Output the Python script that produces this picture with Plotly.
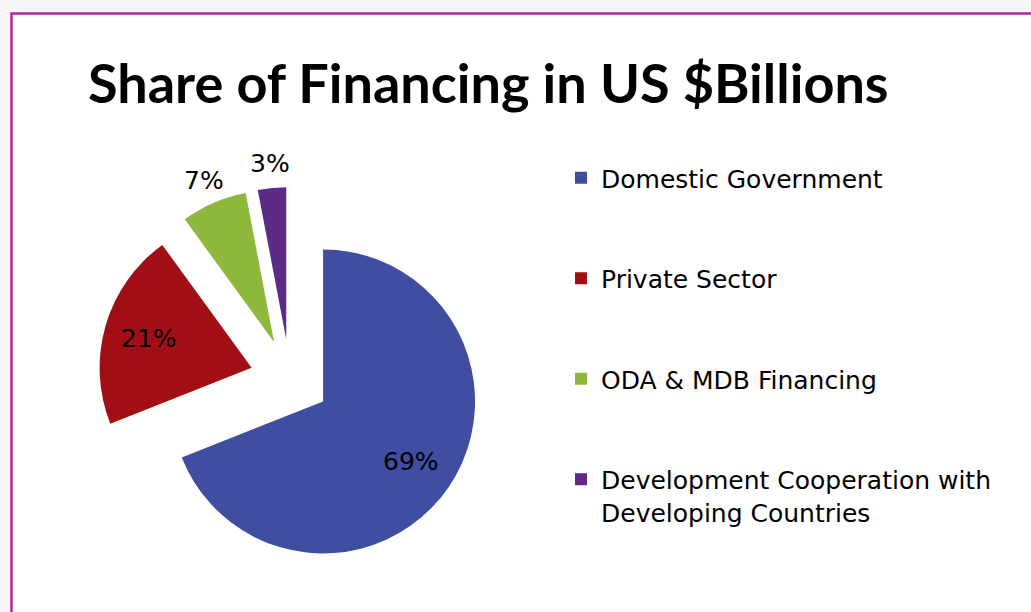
import math
import plotly.graph_objects as go

# Financing shares (percent of total)
categories = [
    "Domestic Government",
    "Private Sector",
    "ODA & MDB Financing",
    "Development Cooperation with<br>Developing Countries",
]
shares = [69, 21, 7, 3]
colors = ["#3F4EA1", "#A10F15", "#8DB83B", "#5B2B86"]
label_inside = [True, True, False, False]

W, H = 1031, 612
TITLE_FONT = "Lato"
FONT = "DejaVu Sans"

# pad each legend entry with blank lines so entries are spread out vertically
def legend_label(name, total_lines=3):
    n = name.count("<br>") + 1
    return name + "<br>\u00a0" * (total_lines - n)

legend_labels = [legend_label(c) for c in categories]

# pie geometry in pixels
cx, cy, radius, pull = 290, 379, 152, 0.263
box = 2 * radius * (1 + pull)
dom_x = [(cx - box / 2) / W, (cx + box / 2) / W]
dom_y = [1 - (cy + box / 2) / H, 1 - (cy - box / 2) / H]

total = sum(shares)
pct_text = [f"{round(100 * v / total)}%" for v in shares]

fig = go.Figure(
    go.Pie(
        labels=legend_labels,
        values=shares,
        sort=False,
        direction="clockwise",
        rotation=0,
        pull=[pull] * len(shares),
        marker=dict(colors=colors, line=dict(width=0)),
        textinfo="none",
        domain=dict(x=dom_x, y=dom_y),
        customdata=pct_text,
        hovertemplate="%{label}: %{customdata}<extra></extra>",
    )
)

# percentage labels placed along each slice's bisector:
# inside the exploded wedge for big slices, just beyond the arc for thin ones
annotations = []
start = 0.0
for v, t, inside in zip(shares, pct_text, label_inside):
    mid = (start + v / 2) / total * 2 * math.pi
    start += v
    if inside:
        dist = radius * (pull + 0.7)
    else:
        dist = radius * (1 + pull) + 24
    px = cx + dist * math.sin(mid)
    py = cy - dist * math.cos(mid)
    annotations.append(
        dict(
            text=t,
            x=px / W,
            y=1 - py / H,
            xref="paper",
            yref="paper",
            xanchor="center",
            yanchor="middle",
            showarrow=False,
            font=dict(family=FONT, size=25, color="#000000"),
        )
    )

fig.update_layout(
    width=W,
    height=H,
    margin=dict(l=0, r=0, t=0, b=0, autoexpand=False),
    paper_bgcolor="#FAF7FA",
    plot_bgcolor="#FFFFFF",
    title=dict(
        text="<b>Share of Financing in US $Billions</b>",
        font=dict(family=TITLE_FONT, size=54, color="#000000"),
        x=88 / W,
        xanchor="left",
        xref="paper",
        y=1 - 84 / H,
        yanchor="middle",
        yref="container",
    ),
    legend=dict(
        x=561 / W,
        xanchor="left",
        y=1 - 155 / H,
        yanchor="top",
        valign="top",
        font=dict(family=FONT, size=25, color="#000000"),
        bgcolor="rgba(0,0,0,0)",
        traceorder="normal",
    ),
    annotations=annotations,
    shapes=[
        dict(
            type="rect",
            xref="paper",
            yref="paper",
            x0=11.5 / W,
            x1=1.05,
            y0=-0.05,
            y1=1 - 13.5 / H,
            line=dict(color="#B0289C", width=2.5),
            fillcolor="#FFFFFF",
            layer="below",
        )
    ],
)

fig.write_html("out.html")
